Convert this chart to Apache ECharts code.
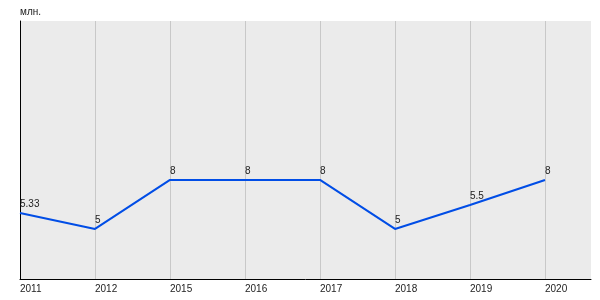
<!DOCTYPE html>
<html>
<head>
<meta charset="utf-8">
<script src="https://cdn.jsdelivr.net/npm/echarts@6/dist/echarts.min.js"></script>
<style>html,body{margin:0;padding:0;background:#fff}#c{width:600px;height:300px}</style>
</head>
<body>
<div id="c"></div>
<script>
// Categories (years) along the x axis
var categories = ['2011', '2012', '2015', '2016', '2017', '2018', '2019', '2020'];
// Values printed next to each point (млн.)
var valueLabels = ['5.33', '5', '8', '8', '8', '5', '5.5', '8'];
// Heights of the points, in % of the plot height
var levels = [25.6, 19.4, 38.4, 38.4, 38.4, 19.4, 28.7, 38.4];
var unitLabel = 'млн.';

var chart = echarts.init(document.getElementById('c'), null, {renderer: 'canvas'});
var font = 'Liberation Sans, Arial, sans-serif';
chart.setOption({
  animation: false,
  title: {
    text: unitLabel, left: 15, top: 2,
    textStyle: {fontSize: 10, fontWeight: 'normal', color: '#222', fontFamily: font}
  },
  grid: [
    {left: 20, right: 55, top: 21, bottom: 21, containLabel: false},
    {left: 20, right: 9, top: 21, bottom: 21, show: true, backgroundColor: '#ebebeb', borderWidth: 0, z: -1}
  ],
  xAxis: [
    {
      type: 'category', gridIndex: 0, data: categories, boundaryGap: false,
      axisLine: {show: false}, axisTick: {show: false},
      splitLine: {show: true, interval: 0, lineStyle: {color: '#c8c8c8', width: 1}},
      axisLabel: {interval: 0, align: 'left', margin: 5, fontSize: 10, color: '#222', fontFamily: font}
    },
    {
      type: 'value', gridIndex: 1, min: 0, max: 1,
      axisLine: {show: true, lineStyle: {color: '#000', width: 1}},
      axisTick: {show: false}, axisLabel: {show: false}, splitLine: {show: false}
    }
  ],
  yAxis: [
    {
      type: 'value', gridIndex: 0, min: 0, max: 100,
      axisLine: {show: false}, axisTick: {show: false}, axisLabel: {show: false}, splitLine: {show: false}
    },
    {
      type: 'value', gridIndex: 1, min: 0, max: 1,
      axisLine: {show: true, lineStyle: {color: '#000', width: 1}},
      axisTick: {show: false}, axisLabel: {show: false}, splitLine: {show: false}
    }
  ],
  series: [{
    type: 'line', xAxisIndex: 0, yAxisIndex: 0,
    data: levels, symbol: 'circle', symbolSize: 0, showSymbol: true,
    lineStyle: {color: '#004de6', width: 2},
    itemStyle: {color: '#004de6'},
    labelLayout: {hideOverlap: false},
    label: {
      show: true, position: 'top', align: 'left', distance: 4,
      fontSize: 10, color: '#222', fontFamily: font,
      formatter: function (p) { return valueLabels[p.dataIndex]; }
    }
  }]
});
</script>
</body>
</html>
